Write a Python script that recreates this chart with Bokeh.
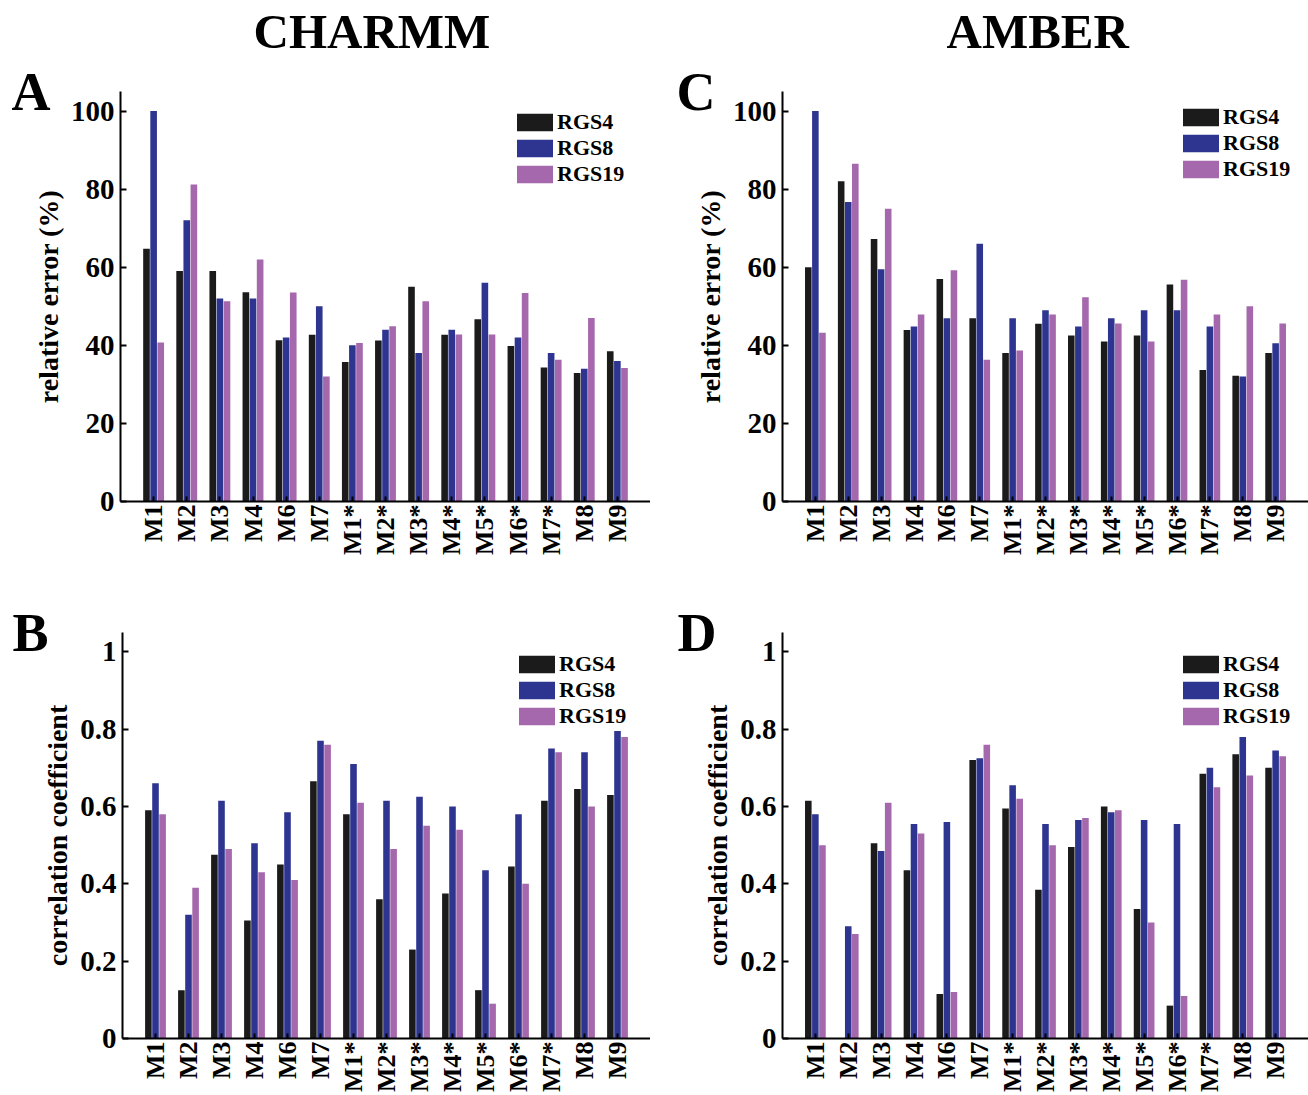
import math
from bokeh.plotting import figure
from bokeh.models import FixedTicker, NumeralTickFormatter, LinearAxis, Title
from bokeh.layouts import column, row
from bokeh.embed import file_html
from bokeh.resources import INLINE

categories = ["M1", "M2", "M3", "M4", "M6", "M7", "M1*", "M2*", "M3*", "M4*",
              "M5*", "M6*", "M7*", "M8", "M9"]
series_names = ["RGS4", "RGS8", "RGS19"]
series_colors = ["#1b1b1b", "#2e3590", "#a568ad"]

# Panel A: CHARMM relative error (%)
charmm_err_rgs4 = [64.7, 59.0, 59.0, 53.6, 41.3, 42.7, 35.7, 41.2, 55.0, 42.7, 46.7, 39.8, 34.3, 32.9, 38.5]
charmm_err_rgs8 = [100.0, 72.0, 52.0, 52.0, 42.0, 50.0, 40.0, 44.0, 38.0, 44.0, 56.0, 42.0, 38.0, 34.0, 36.0]
charmm_err_rgs19 = [40.7, 81.2, 51.3, 62.0, 53.5, 32.0, 40.6, 44.9, 51.3, 42.8, 42.8, 53.4, 36.3, 47.0, 34.2]

# Panel C: AMBER relative error (%)
amber_err_rgs4 = [60.0, 82.0, 67.2, 43.9, 57.0, 46.9, 38.0, 45.5, 42.5, 41.0, 42.5, 55.6, 33.7, 32.2, 38.0]
amber_err_rgs8 = [100.0, 76.7, 59.5, 44.8, 46.9, 66.0, 46.9, 49.0, 44.8, 46.9, 49.0, 49.0, 44.8, 32.0, 40.5]
amber_err_rgs19 = [43.2, 86.5, 75.0, 47.9, 59.2, 36.3, 38.7, 47.9, 52.3, 45.6, 41.0, 56.8, 47.9, 50.0, 45.6]

# Panel B: CHARMM correlation coefficient
charmm_cc_rgs4 = [0.59, 0.125, 0.475, 0.305, 0.45, 0.665, 0.58, 0.36, 0.23, 0.375, 0.125, 0.445, 0.615, 0.645, 0.63]
charmm_cc_rgs8 = [0.66, 0.32, 0.615, 0.505, 0.585, 0.77, 0.71, 0.615, 0.625, 0.60, 0.435, 0.58, 0.75, 0.74, 0.795]
charmm_cc_rgs19 = [0.58, 0.39, 0.49, 0.43, 0.41, 0.76, 0.61, 0.49, 0.55, 0.54, 0.09, 0.40, 0.74, 0.60, 0.78]

# Panel D: AMBER correlation coefficient
amber_cc_rgs4 = [0.615, 0.0, 0.505, 0.435, 0.115, 0.72, 0.595, 0.385, 0.495, 0.60, 0.335, 0.085, 0.685, 0.735, 0.70]
amber_cc_rgs8 = [0.58, 0.29, 0.485, 0.555, 0.56, 0.725, 0.655, 0.555, 0.565, 0.585, 0.565, 0.555, 0.70, 0.78, 0.745]
amber_cc_rgs19 = [0.50, 0.27, 0.61, 0.53, 0.12, 0.76, 0.62, 0.50, 0.57, 0.59, 0.30, 0.11, 0.65, 0.68, 0.73]

err_ticks = [0, 20, 40, 60, 80, 100]
cc_ticks = [0, 0.2, 0.4, 0.6, 0.8, 1.0]

FONT = "Liberation Serif"


def make_panel(values, ylabel, ymax, yticks, width, height, left, top, bottom,
               letter, letter_standoff, legend_loc, cc=False, title=None,
               title_offset=0):
    p = figure(width=width, height=height, x_range=(0, 16), y_range=(0, ymax),
               output_backend="svg", toolbar_location=None,
               min_border_left=left, min_border_right=0,
               min_border_top=top, min_border_bottom=bottom)
    p.outline_line_color = None
    p.xgrid.visible = False
    p.ygrid.visible = False
    p.background_fill_color = "white"

    positions = list(range(1, len(categories) + 1))
    for j, (vals, name, col) in enumerate(zip(values, series_names, series_colors)):
        xs = [x + (j - 1) * 0.215 for x in positions]
        p.vbar(x=xs, top=vals, width=0.2, bottom=0, fill_color=col,
               line_color=None, legend_label=name)

    # x axis
    xa = p.xaxis[0]
    xa.ticker = FixedTicker(ticks=positions)
    xa.major_label_overrides = {x: c for x, c in zip(positions, categories)}
    xa.major_label_orientation = math.pi / 2
    xa.major_label_text_font = FONT
    xa.major_label_text_font_style = "bold"
    xa.major_label_text_font_size = "26px"
    xa.major_label_text_color = "black"
    xa.major_label_standoff = 3
    xa.major_tick_in = 5
    xa.major_tick_out = 0
    xa.minor_tick_in = 0
    xa.minor_tick_out = 0
    xa.axis_line_width = 2
    xa.major_tick_line_width = 2
    xa.axis_line_color = "black"

    # y axis
    ya = p.yaxis[0]
    ya.ticker = FixedTicker(ticks=yticks)
    if cc:
        ya.formatter = NumeralTickFormatter(format="0.[0]")
    ya.axis_label = ylabel
    ya.axis_label_text_font = FONT
    ya.axis_label_text_font_style = "bold"
    ya.axis_label_text_font_size = "28px"
    ya.axis_label_text_color = "black"
    ya.axis_label_standoff = 4
    ya.major_label_text_font = FONT
    ya.major_label_text_font_style = "bold"
    ya.major_label_text_font_size = "29px"
    ya.major_label_text_color = "black"
    ya.major_label_standoff = 6
    ya.major_tick_in = 6
    ya.major_tick_out = 0
    ya.minor_tick_in = 0
    ya.minor_tick_out = 0
    ya.axis_line_width = 2
    ya.major_tick_line_width = 2
    ya.axis_line_color = "black"

    # panel letter: label of an extra, otherwise invisible, left axis
    la = LinearAxis(axis_label=letter, ticker=FixedTicker(ticks=[]),
                    major_tick_in=0, major_tick_out=0,
                    minor_tick_in=0, minor_tick_out=0,
                    axis_line_alpha=0, major_label_text_font_size="0px",
                    axis_label_text_font=FONT,
                    axis_label_text_font_style="bold",
                    axis_label_text_font_size="54px",
                    axis_label_text_color="black",
                    axis_label_standoff=letter_standoff)
    la.axis_label_orientation = "horizontal"
    la.axis_label_align = "end"
    p.add_layout(la, "left")

    # legend
    lg = p.legend[0]
    lg.location = legend_loc
    lg.margin = 0
    lg.padding = 0
    lg.spacing = 0
    lg.glyph_width = 45
    lg.glyph_height = 22
    lg.label_height = 22
    lg.label_standoff = 0
    lg.label_text_font = FONT
    lg.label_text_font_style = "bold"
    lg.label_text_font_size = "22px"
    lg.label_text_color = "black"
    lg.background_fill_alpha = 0
    lg.border_line_alpha = 0

    if title is not None:
        # spacer (nearest the frame) then the column title above it
        p.add_layout(Title(text=" ", text_font_size="10px", standoff=16), "above")
        p.add_layout(Title(text=title, align="left", vertical_align="top",
                           offset=title_offset, standoff=4, text_font=FONT,
                           text_font_style="bold", text_font_size="49px",
                           text_color="black"), "above")
    return p


pA = make_panel([charmm_err_rgs4, charmm_err_rgs8, charmm_err_rgs19],
                "relative error (%)", 105, err_ticks,
                width=650, height=575, left=120, top=91, bottom=69,
                letter="A", letter_standoff=-21, legend_loc=(392, 314),
                title="CHARMM", title_offset=133)
pC = make_panel([amber_err_rgs4, amber_err_rgs8, amber_err_rgs19],
                "relative error (%)", 105, err_ticks,
                width=658, height=575, left=132, top=86, bottom=74,
                letter="C", letter_standoff=-24, legend_loc=(396, 319),
                title="AMBER", title_offset=164)
pB = make_panel([charmm_cc_rgs4, charmm_cc_rgs8, charmm_cc_rgs19],
                "correlation coefficient", 1.05, cc_ticks,
                width=650, height=520, left=122, top=57, bottom=47,
                letter="B", letter_standoff=-9, legend_loc=(392, 309), cc=True)
pD = make_panel([amber_cc_rgs4, amber_cc_rgs8, amber_cc_rgs19],
                "correlation coefficient", 1.05, cc_ticks,
                width=658, height=520, left=132, top=57, bottom=47,
                letter="D", letter_standoff=-17, legend_loc=(396, 309), cc=True)

layout = column(row(pA, pC), row(pB, pD))

with open("out.html", "w") as f:
    f.write(file_html(layout, INLINE))
